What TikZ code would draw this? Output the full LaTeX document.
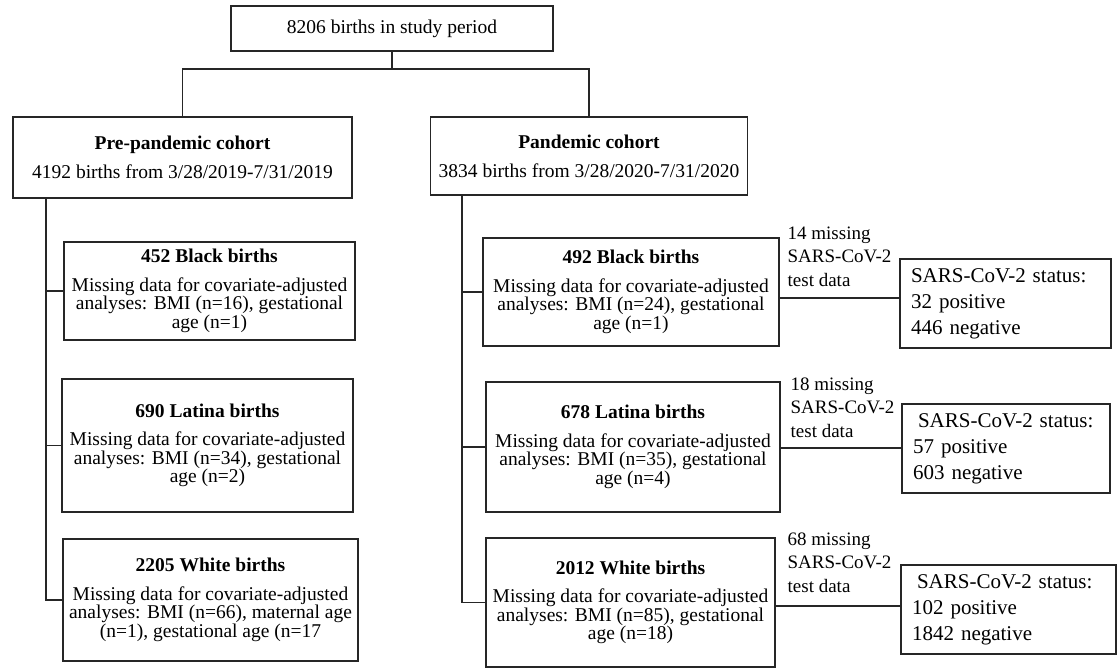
\documentclass[tikz,border=0pt]{standalone}
\usepackage{fontspec}
\setmainfont{Liberation Serif}
\begin{document}
\begin{tikzpicture}[x=1pt,y=-1pt,
  line width=1.3pt,
  box/.style={draw=black!85, line width=1.3pt, inner sep=0pt, align=center,
    font=\fontsize{19.5}{18.5}\selectfont},
  statusbox/.style={draw=black!85, line width=1.3pt, inner ysep=0pt, inner xsep=11pt, align=left,
    font=\fontsize{21}{26}\selectfont},
  misslabel/.style={inner sep=0pt, align=left, anchor=north west,
    font=\fontsize{19}{23.5}\selectfont},
  conn/.style={draw=black!85, line width=1.3pt}]
\useasboundingbox (0,0) rectangle (1120,669);

% top
\node[box, minimum width=322pt, minimum height=45pt] (top) at (392,28.5) {8206 births in study period};

% cohorts
\node[box, minimum width=339pt, minimum height=81pt] (pre) at (182.5,157.5)
  {\textbf{Pre-pandemic cohort}\\[10.5pt]4192 births from 3/28/2019-7/31/2019};
\node[box, minimum width=317.5pt, minimum height=78pt] (pan) at (589,156)
  {\textbf{Pandemic cohort}\\[10.5pt]3834 births from 3/28/2020-7/31/2020};

% left boxes
\node[box, minimum width=291pt, minimum height=98pt] (LB) at (209.5,291)
  {\textbf{452 Black births}\\[10pt]Missing data for covariate-adjusted\\analyses: BMI (n=16), gestational\\age (n=1)};
\node[box, minimum width=291pt, minimum height=133pt] (LL) at (207.5,445.5)
  {\textbf{690 Latina births}\\[10pt]Missing data for covariate-adjusted\\analyses: BMI (n=34), gestational\\age (n=2)};
\node[box, minimum width=295pt, minimum height=122pt] (LW) at (210.5,600)
  {\textbf{2205 White births}\\[10pt]Missing data for covariate-adjusted\\analyses: BMI (n=66), maternal age\\(n=1), gestational age (n=17};

% right boxes
\node[box, minimum width=296pt, minimum height=108pt] (RB) at (631,292)
  {\textbf{492 Black births}\\[10pt]Missing data for covariate-adjusted\\analyses: BMI (n=24), gestational\\age (n=1)};
\node[box, minimum width=294pt, minimum height=130pt] (RL) at (633,447)
  {\textbf{678 Latina births}\\[10pt]Missing data for covariate-adjusted\\analyses: BMI (n=35), gestational\\age (n=4)};
\node[box, minimum width=289pt, minimum height=129pt] (RW) at (630.5,602.5)
  {\textbf{2012 White births}\\[10pt]Missing data for covariate-adjusted\\analyses: BMI (n=85), gestational\\age (n=18)};

% status boxes
\node[statusbox, minimum width=211pt, minimum height=89pt, text width=189pt] (SB) at (1005.5,303.5)
  {SARS-CoV-2 status:\\32 positive\\446 negative};
\node[statusbox, minimum width=208pt, minimum height=89pt, text width=186pt] (SL) at (1006,448.5)
  {\hspace*{5pt}SARS-CoV-2 status:\\57 positive\\603 negative};
\node[statusbox, minimum width=215pt, minimum height=89pt, text width=193pt] (SW) at (1008.5,609.5)
  {\hspace*{5pt}SARS-CoV-2 status:\\102 positive\\1842 negative};

% missing labels
\node[misslabel] (mB) at (787,226) {14 missing\\SARS-CoV-2\\test data};
\node[misslabel] (mL) at (790,377) {18 missing\\SARS-CoV-2\\test data};
\node[misslabel] (mW) at (787,532) {68 missing\\SARS-CoV-2\\test data};

% connectors: top split
\coordinate (j) at (392,69);
\draw[conn] (top.south) -- (j);
\draw[conn] (pre.north) |- (j) -| (pan.north);

% left trunk
\coordinate (tl) at (46,198);
\draw[conn] (tl) |- (LW.west);
\draw[conn] (LB.west) -- (LB.west -| tl);
\draw[conn] (LL.west) -- (LL.west -| tl);

% right trunk
\coordinate (tr) at (462,195);
\draw[conn] (tr) |- (RW.west);
\draw[conn] (RB.west) -- (RB.west -| tr);
\draw[conn] (RL.west) -- (RL.west -| tr);

% status connectors
\coordinate (yb) at (0,298);
\coordinate (yl) at (0,448);
\coordinate (yw) at (0,606);
\draw[conn] (RB.east |- yb) -- (SB.west |- yb);
\draw[conn] (RL.east |- yl) -- (SL.west |- yl);
\draw[conn] (RW.east |- yw) -- (SW.west |- yw);
\end{tikzpicture}
\end{document}
